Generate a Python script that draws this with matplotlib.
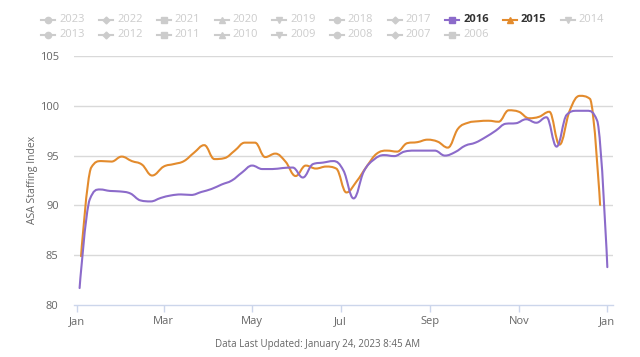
import matplotlib
matplotlib.use("Agg")
import matplotlib.pyplot as plt
from matplotlib.lines import Line2D
from matplotlib.path import Path
from matplotlib.patches import PathPatch
import pandas as pd
import numpy as np

plt.rcParams['font.family'] = ['Open Sans', 'DejaVu Sans']

# ---- data ----
series_2016 = [81.7, 90.6, 91.6, 91.45, 91.4, 91.2, 90.5, 90.4, 90.75, 91.0, 91.1, 91.05,
               91.35, 91.65, 92.1, 92.5, 93.3, 94.0, 93.65, 93.65, 93.75, 93.8, 92.8, 94.15,
               94.3, 94.45, 93.5, 90.7, 93.4, 94.6, 95.05, 94.95, 95.4, 95.5, 95.5, 95.5,
               95.0, 95.35, 96.0, 96.3, 96.85, 97.5, 98.2, 98.25, 98.65, 98.3, 98.85, 95.9,
               99.1, 99.5, 99.5, 98.5, 83.8]
series_2015 = [84.9, 93.8, 94.45, 94.4, 94.9, 94.45, 94.1, 93.0, 93.9, 94.15, 94.45, 95.3,
               96.05, 94.65, 94.75, 95.5, 96.3, 96.3, 94.85, 95.2, 94.4, 92.95, 94.0, 93.7,
               93.9, 93.7, 91.3, 92.4, 93.9, 95.2, 95.5, 95.4, 96.25, 96.35, 96.6, 96.4,
               95.8, 97.7, 98.3, 98.45, 98.5, 98.4, 99.55, 99.4, 98.75, 98.9, 99.4, 96.1,
               99.5, 101.0, 100.7, 90.05]
start_2016 = '2016-01-03'
start_2015 = '2015-01-04'
legend_years = ['2023', '2022', '2021', '2020', '2019', '2018', '2017', '2016', '2015', '2014',
                '2013', '2012', '2011', '2010', '2009', '2008', '2007', '2006']
active = {'2016': '#8C6BCA', '2015': '#E38B2D'}
x_tick_labels = ['Jan', 'Mar', 'May', 'Jul', 'Sep', 'Nov', 'Jan']
y_ticks = [80, 85, 90, 95, 100, 105]
y_title = 'ASA Staffing Index'
footer = 'Data Last Updated: January 24, 2023 8:45 AM'

# dates on a common (2016) year axis
d16 = pd.date_range(start_2016, periods=len(series_2016), freq='7D')
d15 = pd.date_range(start_2015, periods=len(series_2015), freq='7D')
base = pd.Timestamp('2016-01-01')
x16 = np.array([(d - base).days for d in d16], dtype=float)
x15 = np.array([(d.replace(year=2016) - base).days for d in d15], dtype=float)
tick_dates = ['2016-01-01', '2016-03-01', '2016-05-01', '2016-07-01', '2016-09-01',
              '2016-11-01', '2017-01-01']
tick_x = [(pd.Timestamp(t) - base).days for t in tick_dates]


def spline_path(xs, ys, smoothing=1.5):
    """Smooth curve through the data points (Highcharts-style spline)."""
    n = len(xs)
    denom = smoothing + 1
    lc = [None] * n
    rc = [None] * n
    for i in range(n):
        px, py = xs[i], ys[i]
        if i == 0 or i == n - 1:
            lc[i] = (px, py)
            rc[i] = (px, py)
            continue
        lx, ly = xs[i - 1], ys[i - 1]
        nx, ny = xs[i + 1], ys[i + 1]
        lcx = (smoothing * px + lx) / denom
        lcy = (smoothing * py + ly) / denom
        rcx = (smoothing * px + nx) / denom
        rcy = (smoothing * py + ny) / denom
        if rcx != lcx:
            corr = ((rcy - lcy) * (rcx - px)) / (rcx - lcx) + py - rcy
            lcy += corr
            rcy += corr
        if lcy > ly and lcy > py:
            lcy = max(ly, py)
            rcy = 2 * py - lcy
        elif lcy < ly and lcy < py:
            lcy = min(ly, py)
            rcy = 2 * py - lcy
        if rcy > ny and rcy > py:
            rcy = max(ny, py)
            lcy = 2 * py - rcy
        elif rcy < ny and rcy < py:
            rcy = min(ny, py)
            lcy = 2 * py - rcy
        lc[i] = (lcx, lcy)
        rc[i] = (rcx, rcy)
    verts = [(xs[0], ys[0])]
    codes = [Path.MOVETO]
    for i in range(1, n):
        verts += [rc[i - 1], lc[i], (xs[i], ys[i])]
        codes += [Path.CURVE4] * 3
    return Path(verts, codes)


W, H = 640, 357
fig = plt.figure(figsize=(W / 100, H / 100), dpi=100)
ax = fig.add_axes([74 / W, 1 - 305 / H, (612.7 - 74) / W, (305 - 56) / H])

grid_c = '#d9d9d9'
text_c = '#666666'
for v in y_ticks[1:]:
    ax.axhline(v, color=grid_c, lw=1.0, zorder=1)

for xs, ys, yr, z in [(x15, series_2015, '2015', 2), (x16, series_2016, '2016', 3)]:
    ax.add_patch(PathPatch(spline_path(xs, ys), facecolor='none', edgecolor=active[yr],
                           lw=1.5, zorder=z, joinstyle='round', capstyle='round'))
    # invisible data line so the axes know the series
    ax.plot(xs, ys, alpha=0)

ax.set_ylim(80, 105)
ax.set_xlim(-1.86, 369.7)
ax.set_yticks(y_ticks)
ax.set_yticklabels([str(v) for v in y_ticks])
ax.set_xticks(tick_x)
ax.set_xticklabels(x_tick_labels)
for s in ['top', 'right', 'left']:
    ax.spines[s].set_visible(False)
ax.spines['bottom'].set_color('#ccd6eb')
ax.spines['bottom'].set_linewidth(1.0)
ax.tick_params(axis='y', length=0, pad=11, labelsize=8, labelcolor=text_c)
ax.tick_params(axis='x', length=5, width=1, color='#ccd6eb', pad=3, labelsize=8,
               labelcolor=text_c)
fig.text(33 / W, 1 - 180 / H, y_title, rotation=90, ha='center', va='center',
         fontsize=7.5, color=text_c)

# legend
markers = ['o', 'D', 's', '^', 'v']
x0, dx = 48.4, 57.7
rows_y = [19.5, 34.5]
for i, yr in enumerate(legend_years):
    r, c = divmod(i, 10)
    mx = x0 + c * dx
    my = rows_y[r]
    col = active.get(yr, '#cccccc')
    fy = 1 - my / H
    fig.add_artist(Line2D([(mx - 7) / W, (mx + 7) / W], [fy, fy], color=col, lw=1.5,
                          transform=fig.transFigure))
    m = markers[i % 5]
    fig.add_artist(Line2D([mx / W], [fy], marker=m, color=col,
                          markersize=4.5 if m != 'D' else 3.5,
                          transform=fig.transFigure, lw=0))
    fig.text((mx + 11) / W, fy, yr, ha='left', va='center', fontsize=8,
             color='#333333' if yr in active else '#cccccc',
             fontweight='bold' if yr in active else 'normal')

fig.text(318 / W, 1 - 345 / H, footer, ha='center', va='center', fontsize=7, color=text_c)

fig.savefig('out.png', dpi=100, facecolor='white')
